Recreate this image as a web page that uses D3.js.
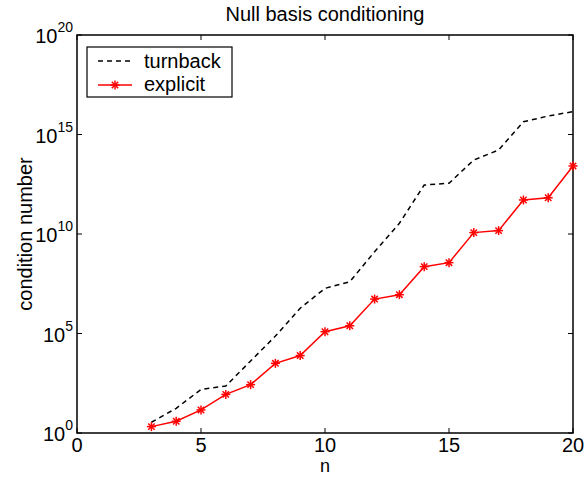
<!DOCTYPE html>
<html>
<head>
<meta charset="utf-8">
<script src="https://cdn.jsdelivr.net/npm/d3@7"></script>
<style>
  body { margin: 0; background: #fff; }
  text { font-family: "Liberation Sans", Arial, sans-serif; }
</style>
</head>
<body>
<div id="chart"></div>
<script>
// n values and log10 of condition numbers
const nVals = [3, 4, 5, 6, 7, 8, 9, 10, 11, 12, 13, 14, 15, 16, 17, 18, 19, 20];
const turnbackLog = [0.54, 1.24, 2.19, 2.36, 3.62, 4.87, 6.27, 7.27, 7.6, 9.11, 10.54, 12.46, 12.55, 13.72, 14.22, 15.64, 15.93, 16.15];
const explicitLog = [0.32, 0.59, 1.16, 1.94, 2.43, 3.5, 3.89, 5.09, 5.39, 6.73, 6.95, 8.36, 8.56, 10.07, 10.17, 11.71, 11.82, 13.42];
const xTicks = [0, 5, 10, 15, 20];
const yTickExp = [0, 5, 10, 15, 20];
const legendNames = ["turnback", "explicit"];

const width = 584, height = 477;
const margin = {top: 35, right: 11, bottom: 44, left: 77};

const svg = d3.select("#chart").append("svg")
    .attr("width", width).attr("height", height);

const x = d3.scaleLinear().domain([0, 20]).range([margin.left, width - margin.right]);
const y = d3.scaleLog().domain([1, 1e20]).range([height - margin.bottom, margin.top]);

const turnback = nVals.map(function(n, i) { return {n: n, v: Math.pow(10, turnbackLog[i])}; });
const explicit = nVals.map(function(n, i) { return {n: n, v: Math.pow(10, explicitLog[i])}; });

// box
svg.append("rect")
    .attr("x", x(0)).attr("y", y(1e20))
    .attr("width", x(20) - x(0)).attr("height", y(1) - y(1e20))
    .attr("fill", "none").attr("stroke", "#000").attr("stroke-width", 1.5);

// ticks, inside, on all four sides
const tl = 5;
const tickG = svg.append("g").attr("stroke", "#000").attr("stroke-width", 1);
xTicks.forEach(function(t) {
  tickG.append("line").attr("x1", x(t)).attr("x2", x(t)).attr("y1", y(1)).attr("y2", y(1) - tl);
  tickG.append("line").attr("x1", x(t)).attr("x2", x(t)).attr("y1", y(1e20)).attr("y2", y(1e20) + tl);
});
yTickExp.forEach(function(e) {
  const v = Math.pow(10, e);
  tickG.append("line").attr("x1", x(0)).attr("x2", x(0) + tl).attr("y1", y(v)).attr("y2", y(v));
  tickG.append("line").attr("x1", x(20)).attr("x2", x(20) - tl).attr("y1", y(v)).attr("y2", y(v));
});

// x tick labels
svg.append("g").selectAll("text")
    .data(xTicks)
    .enter().append("text")
      .attr("x", function(d) { return x(d); })
      .attr("y", y(1) + 19)
      .attr("text-anchor", "middle")
      .style("font-size", "20px")
      .text(function(d) { return d; });

// y tick labels with superscripts
yTickExp.forEach(function(e) {
  const t = svg.append("text")
      .attr("x", x(0) - 4)
      .attr("y", y(Math.pow(10, e)) + 8)
      .attr("text-anchor", "end")
      .style("font-size", "20px");
  t.append("tspan").text("10");
  t.append("tspan").attr("dy", -11).style("font-size", "14px").text(e);
});

// title and axis labels
svg.append("text")
    .attr("x", (x(0) + x(20)) / 2).attr("y", 21)
    .attr("text-anchor", "middle").style("font-size", "20px")
    .text("Null basis conditioning");
svg.append("text")
    .attr("x", (x(0) + x(20)) / 2).attr("y", 472)
    .attr("text-anchor", "middle").style("font-size", "18px")
    .text("n");
svg.append("text")
    .attr("transform", "translate(32," + ((y(1) + y(1e20)) / 2) + ") rotate(-90)")
    .attr("text-anchor", "middle").style("font-size", "20px")
    .text("condition number");

const line = d3.line()
    .x(function(d) { return x(d.n); })
    .y(function(d) { return y(d.v); });

svg.append("path")
    .datum(turnback)
    .attr("d", line)
    .attr("fill", "none").attr("stroke", "#000")
    .attr("stroke-width", 1.5).attr("stroke-dasharray", "5,4");

svg.append("path")
    .datum(explicit)
    .attr("d", line)
    .attr("fill", "none").attr("stroke", "#ff0000")
    .attr("stroke-width", 1.5);

function asterisk(sel) {
  sel.append("line").attr("x1", -4.5).attr("x2", 4.5).attr("y1", 0).attr("y2", 0);
  sel.append("line").attr("x1", 0).attr("x2", 0).attr("y1", -4.5).attr("y2", 4.5);
  sel.append("line").attr("x1", -3.2).attr("x2", 3.2).attr("y1", -3.2).attr("y2", 3.2);
  sel.append("line").attr("x1", -3.2).attr("x2", 3.2).attr("y1", 3.2).attr("y2", -3.2);
}

svg.append("g").selectAll("g")
    .data(explicit)
    .enter().append("g")
      .attr("transform", function(d) { return "translate(" + x(d.n) + "," + y(d.v) + ")"; })
      .attr("stroke", "#ff0000").attr("stroke-width", 1.5)
      .call(asterisk);

// legend
const lg = svg.append("g");
lg.append("rect")
    .attr("x", 87).attr("y", 47).attr("width", 145).attr("height", 50)
    .attr("fill", "#fff").attr("stroke", "#000").attr("stroke-width", 1.2);
lg.append("line").attr("x1", 98).attr("x2", 132).attr("y1", 61).attr("y2", 61)
    .attr("stroke", "#000").attr("stroke-width", 1.5).attr("stroke-dasharray", "5,4");
lg.append("line").attr("x1", 98).attr("x2", 132).attr("y1", 85).attr("y2", 85)
    .attr("stroke", "#ff0000").attr("stroke-width", 1.5);
lg.append("g").attr("transform", "translate(115,85)")
    .attr("stroke", "#ff0000").attr("stroke-width", 1.5).call(asterisk);
lg.selectAll("text.lab")
    .data(legendNames)
    .enter().append("text")
      .attr("class", "lab")
      .attr("x", 144)
      .attr("y", function(d, i) { return 68 + i * 23; })
      .style("font-size", "20px")
      .text(function(d) { return d; });
</script>
</body>
</html>
